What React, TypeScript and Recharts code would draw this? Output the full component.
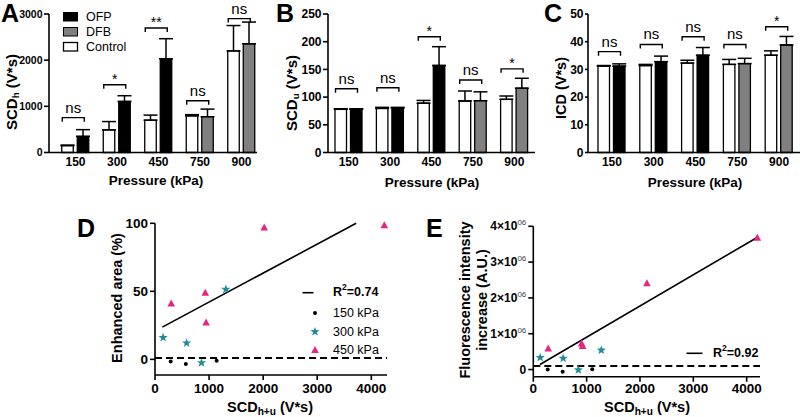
import { Bar, BarChart, Cell, ErrorBar, ReferenceLine, Scatter, ScatterChart, XAxis, YAxis } from "recharts";

const FONT = '"Liberation Sans", Arial, sans-serif';
const TEAL = "#1f8c97";
const PINK = "#ea2380";
const GRAY = "#808080";

// bar panels A-C
const pressures = ["150", "300", "450", "750", "900"];
const agents = ["OFP", "OFP", "OFP", "DFB", "DFB"];

const scdhCtrl = [150, 490, 700, 795, 2200];
const scdhCtrlSd = [10, 180, 110, 25, 550];
const scdhTrt = [350, 1105, 2030, 775, 2355];
const scdhTrtSd = [145, 125, 435, 165, 470];
const scdhBracket = [755, 1468, 2698, 1122, 2900];
const scdhMarks = ["ns", "*", "**", "ns", "ns"];

const scduCtrl = [78, 79.5, 89, 93, 96];
const scduCtrlSd = [1, 2, 5, 18, 6];
const scduTrt = [78, 80.5, 157, 93.5, 116];
const scduTrtSd = [1, 1, 34, 16, 18];
const scduBracket = [115, 117, 209, 131, 151];
const scduMarks = ["ns", "ns", "*", "ns", "*"];

const icdCtrl = [31.2, 31.4, 32.3, 31.8, 35.1];
const icdCtrlSd = [0.2, 0.4, 1, 1.8, 1.6];
const icdTrt = [31.2, 32.8, 35.1, 32.1, 38.8];
const icdTrtSd = [0.8, 2, 2.8, 1.9, 3.1];
const icdBracket = [36.4, 39, 41.8, 39, 45.4];
const icdMarks = ["ns", "ns", "ns", "ns", "*"];

// scatter panels D-E
const d150X = [290, 570, 1140];
const d150Y = [-1.5, -3.5, -1];
const d300X = [150, 585, 860, 1310];
const d300Y = [16, 12, -2.5, 51.5];
const d450X = [300, 930, 945, 2020, 4240];
const d450Y = [41, 49, 27, 97, 98.5];
const fitDX = [135, 3720];
const fitDY = [23.7, 100];

const e150X = [270, 550, 1105];
const e150Y = [0, -60000, 10000];
const e300X = [130, 560, 845, 1275];
const e300Y = [335000, 315000, -10000, 540000];
const e450X = [280, 905, 925, 2130, 4200];
const e450Y = [590000, 730000, 660000, 2410000, 3680000];
const fitEX = [125, 4220];
const fitEY = [140000, 3710000];

const agentFill: Record<string, string> = { OFP: "#000", DFB: GRAY };

const zip = (xs: number[], ys: number[]) => xs.map((x, i) => ({ x, y: ys[i] }));

const barRows = (ctrl: number[], ctrlSd: number[], trt: number[], trtSd: number[], br: number[], marks: string[]) =>
  pressures.map((p, i) => ({
    p,
    agent: agents[i],
    ctrl: ctrl[i],
    ctrlErr: [0, ctrlSd[i]],
    trt: trt[i],
    trtErr: [0, trtSd[i]],
    br: br[i],
    mark: marks[i],
  }));

const Bracket = (props: any) => {
  const { x, y, width, payload } = props;
  const x0 = x - 2.5;
  const x1 = x + width - 2.5;
  const ns = payload.mark === "ns";
  return (
    <g>
      <path d={`M${x0},${y + 4}V${y}H${x1}V${y + 4}`} fill="none" stroke="#000" strokeWidth={1.4} />
      <text x={(x0 + x1) / 2} y={ns ? y - 5 : y - 1} textAnchor="middle" fontSize={ns ? 15 : 14} fontFamily={FONT} fill="#000">
        {payload.mark}
      </text>
    </g>
  );
};

const axisStyle = { stroke: "#000", strokeWidth: 1.6 };

function BarPanel({ rows, left, width, plotLeft, plotRight, yMax, yTicks, pad, yFont, yTickSize = 5 }: any) {
  const tickY = { fontSize: yFont, fontWeight: "bold", fill: "#000", fontFamily: FONT };
  return (
    <div style={{ position: "absolute", left, top: 0 }}>
      <BarChart
        width={width}
        height={200}
        data={rows}
        margin={{ top: 14, left: plotLeft - left - 40, right: left + width - plotRight, bottom: 200 - 152.5 - 30 }}
        barGap={4}
        barSize={11.5}
      >
        <XAxis
          dataKey="p"
          height={30}
          padding={pad}
          tickLine={false}
          axisLine={axisStyle}
          tickSize={3}
          tickMargin={2}
          tick={{ fontSize: 12, fontWeight: "bold", fill: "#000", fontFamily: FONT }}
        />
        <XAxis xAxisId="br" dataKey="p" hide padding={pad} />
        <YAxis
          width={40}
          domain={[0, yMax]}
          ticks={yTicks}
          axisLine={axisStyle}
          tickLine={axisStyle}
          tickSize={yTickSize}
          tickMargin={1.5}
          tick={tickY}
        />
        <Bar dataKey="ctrl" fill="#fff" stroke="#000" strokeWidth={1.3} isAnimationActive={false}>
          <ErrorBar dataKey="ctrlErr" width={7} stroke="#000" strokeWidth={1.5} />
        </Bar>
        <Bar dataKey="trt" stroke="#000" strokeWidth={1.3} isAnimationActive={false}>
          {rows.map((r: any) => (
            <Cell key={r.p} fill={agentFill[r.agent]} />
          ))}
          <ErrorBar dataKey="trtErr" width={7} stroke="#000" strokeWidth={1.5} />
        </Bar>
        <Bar xAxisId="br" dataKey="br" barSize={22} shape={Bracket} isAnimationActive={false} />
      </BarChart>
    </div>
  );
}

const starPts = (cx: number, cy: number, R: number, r: number) =>
  Array.from({ length: 10 }, (_, i) => {
    const a = -Math.PI / 2 + (i * Math.PI) / 5;
    const rr = i % 2 === 0 ? R : r;
    return `${cx + rr * Math.cos(a)},${cy + rr * Math.sin(a)}`;
  }).join(" ");

const Dot = (p: any) => <circle cx={p.cx} cy={p.cy} r={2} fill="#000" />;
const Star = (p: any) => <polygon points={starPts(p.cx, p.cy, 4.8, 2)} fill={TEAL} />;
const Tri = (p: any) => (
  <polygon points={`${p.cx},${p.cy - 4} ${p.cx - 3.8},${p.cy + 3} ${p.cx + 3.8},${p.cy + 3}`} fill={PINK} />
);

const ETick = (props: any) => {
  const { x, y, payload } = props;
  const v = payload.value;
  return (
    <text x={x} y={y} textAnchor="end" dominantBaseline="central" fontFamily={FONT} fontWeight="bold" fontSize={12} fill="#000">
      {v === 0 ? "0" : `${v / 1e6}×10`}
      {v === 0 ? null : (
        <tspan dy={-4} fontSize={8} fontWeight="normal" fill="#444">
          06
        </tspan>
      )}
    </text>
  );
};

const tickXY = { fontSize: 13.5, fontWeight: "bold", fill: "#000", fontFamily: FONT };
const xTicks = [0, 1000, 2000, 3000, 4000];

function PanelD() {
  return (
    <div style={{ position: "absolute", left: 100, top: 200 }}>
      <ScatterChart width={300} height={217} margin={{ top: 23.3, left: 15, right: 13, bottom: 12 }}>
        <XAxis type="number" dataKey="x" domain={[0, 4290]} ticks={xTicks} height={30} axisLine={axisStyle} tickLine={axisStyle} tickSize={5} tickMargin={3} tick={tickXY} />
        <YAxis type="number" dataKey="y" domain={[-11.5, 100]} ticks={[0, 50, 100]} width={40} axisLine={axisStyle} tickLine={axisStyle} tickSize={5} tickMargin={2} tick={tickXY} />
        <ReferenceLine y={1} stroke="#000" strokeWidth={2} strokeDasharray="7 4" />
        <ReferenceLine segment={zip(fitDX, fitDY)} stroke="#000" strokeWidth={1.6} ifOverflow="visible" />
        <Scatter data={zip(d150X, d150Y)} shape={Dot} isAnimationActive={false} />
        <Scatter data={zip(d300X, d300Y)} shape={Star} isAnimationActive={false} />
        <Scatter data={zip(d450X, d450Y)} shape={Tri} isAnimationActive={false} />
      </ScatterChart>
    </div>
  );
}

function PanelE() {
  return (
    <div style={{ position: "absolute", left: 480, top: 200 }}>
      <ScatterChart width={300} height={217} margin={{ top: 26.3, left: 13.3, right: 20, bottom: 10.3 }}>
        <XAxis type="number" dataKey="x" domain={[0, 4250]} ticks={xTicks} height={30} axisLine={axisStyle} tickLine={axisStyle} tickSize={5} tickMargin={2} tick={tickXY} />
        <YAxis type="number" dataKey="y" domain={[-200000, 4000000]} ticks={[0, 1e6, 2e6, 3e6, 4e6]} width={40} axisLine={axisStyle} tickLine={axisStyle} tickSize={5} tickMargin={2} tick={<ETick />} />
        <ReferenceLine y={100000} stroke="#000" strokeWidth={2} strokeDasharray="7 4" />
        <ReferenceLine segment={zip(fitEX, fitEY)} stroke="#000" strokeWidth={1.6} ifOverflow="visible" />
        <Scatter data={zip(e150X, e150Y)} shape={Dot} isAnimationActive={false} />
        <Scatter data={zip(e300X, e300Y)} shape={Star} isAnimationActive={false} />
        <Scatter data={zip(e450X, e450Y)} shape={Tri} isAnimationActive={false} />
      </ScatterChart>
    </div>
  );
}

const Letter = ({ x, y, c }: any) => (
  <text x={x} y={y} fontSize={25} fontWeight="bold" fontFamily={FONT} fill="#000">
    {c}
  </text>
);

const VLabel = ({ x, y, main, sub, rest, size = 15 }: any) => (
  <text x={x} y={y} transform={`rotate(-90 ${x} ${y})`} textAnchor="middle" dominantBaseline="central" fontSize={size} fontWeight="bold" fontFamily={FONT} fill="#000">
    {main}
    {sub ? (
      <tspan fontSize={size * 0.65} dy={4}>
        {sub}
      </tspan>
    ) : null}
    <tspan dy={sub ? -4 : 0}>{rest}</tspan>
  </text>
);

const HLabel = ({ x, y, main, sub, rest, size = 13.5 }: any) => (
  <text x={x} y={y} textAnchor="middle" dominantBaseline="central" fontSize={size} fontWeight="bold" fontFamily={FONT} fill="#000">
    {main}
    {sub ? (
      <tspan fontSize={size * 0.7} dy={4}>
        {sub}
      </tspan>
    ) : null}
    <tspan dy={sub ? -4 : 0}>{rest}</tspan>
  </text>
);

function Overlay() {
  const legText = { fontSize: 12.5, fontFamily: FONT, fill: "#000", dominantBaseline: "central" as const };
  return (
    <svg width={800} height={417} style={{ position: "absolute", left: 0, top: 0, pointerEvents: "none" }}>
      <Letter x={1} y={22} c="A" />
      <Letter x={276} y={22} c="B" />
      <Letter x={544} y={22} c="C" />
      <Letter x={77} y={237} c="D" />
      <Letter x={426} y={237} c="E" />

      <VLabel x={11} y={92} main="SCD" sub="h" rest=" (V*s)" />
      <VLabel x={291} y={93} main="SCD" sub="u" rest=" (V*s)" />
      <VLabel x={561} y={88} main="ICD (V*s)" size={14.5} />
      <HLabel x={156} y={180} main="Pressure (kPa)" />
      <HLabel x={432} y={182} main="Pressure (kPa)" />
      <HLabel x={695} y={182} main="Pressure (kPa)" />

      {/* legend A */}
      <rect x={63.5} y={12.5} width={14} height={8.5} fill="#000" stroke="#000" />
      <rect x={63.5} y={27.5} width={14} height={8.5} fill={GRAY} stroke="#000" />
      <rect x={63.5} y={42.5} width={14} height={8.5} fill="#fff" stroke="#000" strokeWidth={1.3} />
      <text x={86} y={16.5} {...legText}>OFP</text>
      <text x={86} y={31.5} {...legText}>DFB</text>
      <text x={86} y={46.5} {...legText}>Control</text>

      <VLabel x={117} y={298} main="Enhanced area (%)" size={14.5} />
      <HLabel x={270} y={407} main="SCD" sub="h+u" rest=" (V*s)" size={14.5} />
      <text x={465} y={300} transform="rotate(-90 465 300)" textAnchor="middle" dominantBaseline="central" fontSize={14.5} fontWeight="bold" fontFamily={FONT}>
        Fluorescence intensity
      </text>
      <text x={482} y={300} transform="rotate(-90 482 300)" textAnchor="middle" dominantBaseline="central" fontSize={14.5} fontWeight="bold" fontFamily={FONT}>
        increase (A.U.)
      </text>
      <HLabel x={647} y={407} main="SCD" sub="h+u" rest=" (V*s)" size={14.5} />

      {/* legend D */}
      <line x1={302.5} x2={313.5} y1={292.7} y2={292.7} stroke="#000" strokeWidth={1.6} />
      <text x={333} y={292} {...legText} fontWeight="bold">
        R<tspan dy={-5} fontSize={8.5}>2</tspan>
        <tspan dy={5}>=0.74</tspan>
      </text>
      <circle cx={315} cy={313} r={2} fill="#000" />
      <polygon points={starPts(315, 331.7, 4.8, 2)} fill={TEAL} />
      <polygon points={`315,346 311.2,353 318.8,353`} fill={PINK} />
      <text x={333} y={313} {...legText}>150 kPa</text>
      <text x={333} y={331.5} {...legText}>300 kPa</text>
      <text x={333} y={350} {...legText}>450 kPa</text>

      {/* legend E */}
      <line x1={686.5} x2={702.5} y1={353.3} y2={353.3} stroke="#000" strokeWidth={1.6} />
      <text x={713} y={353} {...legText} fontWeight="bold">
        R<tspan dy={-5} fontSize={8.5}>2</tspan>
        <tspan dy={5}>=0.92</tspan>
      </text>
    </svg>
  );
}

export default function App() {
  return (
    <div style={{ position: "absolute", left: 0, top: 0, width: 800, height: 417, background: "#fff", fontFamily: FONT }}>
      <BarPanel
        rows={barRows(scdhCtrl, scdhCtrlSd, scdhTrt, scdhTrtSd, scdhBracket, scdhMarks)}
        left={0}
        width={275}
        plotLeft={49}
        plotRight={257}
        yMax={3000}
        yTicks={[0, 1000, 2000, 3000]}
        pad={{ left: 5.75, right: -5.25 }}
        yFont={10.5}
      />
      <BarPanel
        rows={barRows(scduCtrl, scduCtrlSd, scduTrt, scduTrtSd, scduBracket, scduMarks)}
        left={270}
        width={270}
        plotLeft={328}
        plotRight={535}
        yMax={250}
        yTicks={[0, 50, 100, 150, 200, 250]}
        pad={{ left: 0, right: 0 }}
        yFont={12}
      />
      <BarPanel
        rows={barRows(icdCtrl, icdCtrlSd, icdTrt, icdTrtSd, icdBracket, icdMarks)}
        left={540}
        width={260}
        plotLeft={588}
        plotRight={800}
        yMax={50}
        yTicks={[0, 10, 20, 30, 40, 50]}
        pad={{ left: 3, right: 0 }}
        yFont={12}
        yTickSize={3}
      />
      <PanelD />
      <PanelE />
      <Overlay />
    </div>
  );
}
